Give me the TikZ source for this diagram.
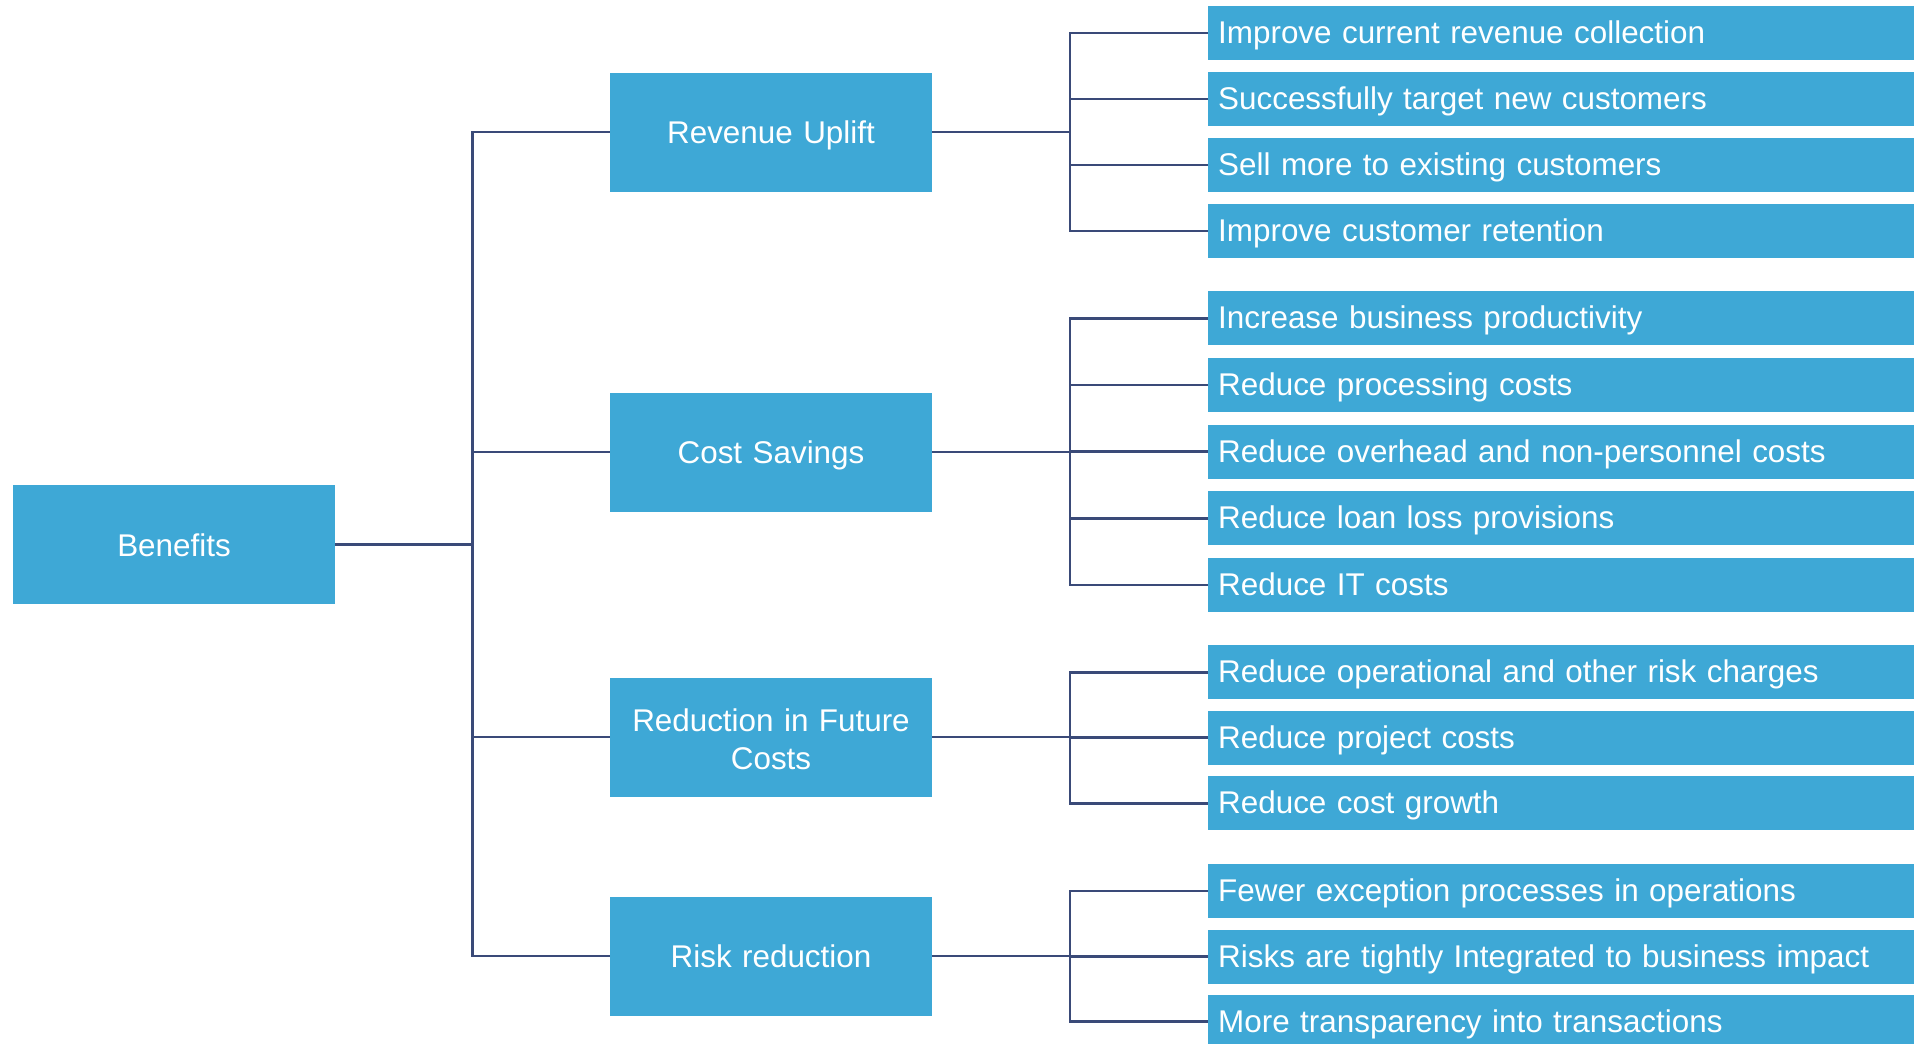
\documentclass[tikz,border=0pt]{standalone}
\usepackage{fontspec}
\setmainfont{Liberation Sans}
\definecolor{boxblue}{RGB}{62,168,214}
\definecolor{linknavy}{RGB}{58,74,120}
\begin{document}
\begin{tikzpicture}[x=1pt,y=-1pt,
  base/.style={rectangle,fill=boxblue,text=white,inner sep=0pt,
    font=\fontsize{31.4}{38}\selectfont},
  mainbox/.style={base,minimum width=322pt,minimum height=119pt,
    text width=304pt,align=center,text height=23pt,text depth=0pt},
  twoline/.style={base,minimum width=322pt,minimum height=119pt,
    text width=304pt,align=center,text height=23pt,text depth=34pt},
  leafbox/.style={base,anchor=west,minimum width=706pt,minimum height=54pt,
    inner xsep=10pt,text width=686pt,align=left,text height=23pt,text depth=2pt},
  link/.style={draw=linknavy,line width=2.9pt,line join=miter}]
\clip (0,0) rectangle (1925,1044);
\fill[white] (0,0) rectangle (1925,1044);

% branch columns
\coordinate (t1) at (472.7,0);
\coordinate (t2) at (1070,0);

% root
\node[mainbox] (ben) at (174,544.5) {Benefits};

% second level
\node[mainbox] (rev)  at (771,132) {Revenue Uplift};
\node[mainbox] (cost) at (771,452) {Cost Savings};
\node[twoline] (fut)  at (771,737) {Reduction in Future\\Costs};
\node[mainbox] (risk) at (771,956) {Risk reduction};

% leaves: revenue
\node[leafbox] (r1) at (1208,33)  {Improve current revenue collection};
\node[leafbox] (r2) at (1208,99)  {Successfully target new customers};
\node[leafbox] (r3) at (1208,165) {Sell more to existing customers};
\node[leafbox] (r4) at (1208,231) {Improve customer retention};
% leaves: cost savings
\node[leafbox] (c1) at (1208,318.3) {Increase business productivity};
\node[leafbox] (c2) at (1208,385)   {Reduce processing costs};
\node[leafbox] (c3) at (1208,451.7) {Reduce overhead and non-personnel costs};
\node[leafbox] (c4) at (1208,518.3) {Reduce loan loss provisions};
\node[leafbox] (c5) at (1208,585)   {Reduce IT costs};
% leaves: future costs
\node[leafbox] (f1) at (1208,672.3) {Reduce operational and other risk charges};
\node[leafbox] (f2) at (1208,737.7) {Reduce project costs};
\node[leafbox] (f3) at (1208,803.3) {Reduce cost growth};
% leaves: risk
\node[leafbox] (k1) at (1208,891)    {Fewer exception processes in operations};
\node[leafbox] (k2) at (1208,956.7)  {Risks are tightly Integrated to business impact};
\node[leafbox] (k3) at (1208,1021.7) {More transparency into transactions};

% root to second level
\foreach \c in {rev,cost,fut,risk}
  \draw[link] (ben.east) -- (ben.east -| t1) |- (\c.west);

% second level to leaves
\foreach \c in {r1,r2,r3,r4}
  \draw[link] (rev.east) -- (rev.east -| t2) |- (\c.west);
\foreach \c in {c1,c2,c3,c4,c5}
  \draw[link] (cost.east) -- (cost.east -| t2) |- (\c.west);
\foreach \c in {f1,f2,f3}
  \draw[link] (fut.east) -- (fut.east -| t2) |- (\c.west);
\foreach \c in {k1,k2,k3}
  \draw[link] (risk.east) -- (risk.east -| t2) |- (\c.west);
\end{tikzpicture}
\end{document}
